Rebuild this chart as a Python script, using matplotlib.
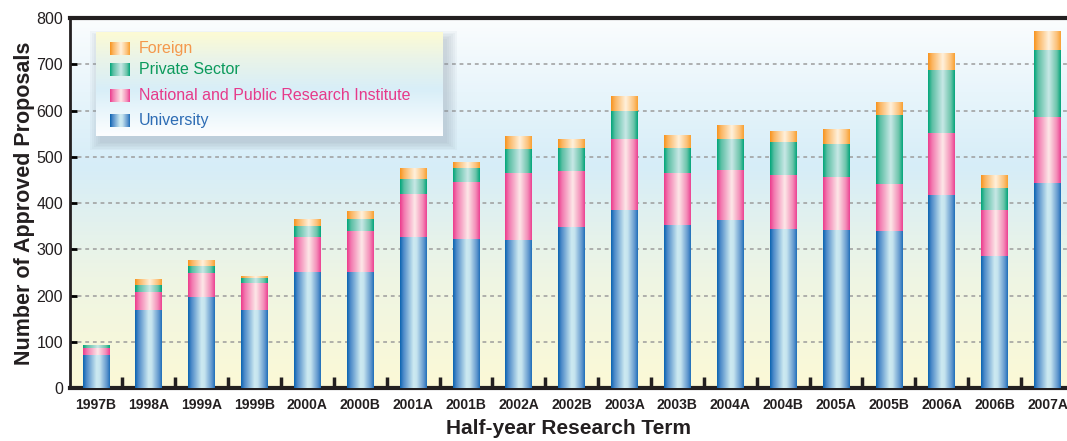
import numpy as np
import matplotlib
matplotlib.use('Agg')
import matplotlib.pyplot as plt
import matplotlib.patches as patches
from matplotlib.colors import LinearSegmentedColormap
from matplotlib.ticker import FixedLocator

plt.rcParams['font.family'] = ['Liberation Sans', 'DejaVu Sans']

# half-year terms and approved proposals per sector
terms = ['1997B', '1998A', '1999A', '1999B', '2000A', '2000B', '2001A', '2001B',
         '2002A', '2002B', '2003A', '2003B', '2004A', '2004B', '2005A', '2005B',
         '2006A', '2006B', '2007A']
university = [71, 169, 197, 169, 251, 251, 326, 322, 320, 348, 385, 352, 363, 344, 342, 339, 417, 285, 443]
national = [16, 39, 52, 58, 75, 88, 93, 123, 145, 121, 153, 113, 108, 117, 114, 102, 134, 100, 143]
private = [6, 15, 15, 11, 24, 26, 32, 30, 52, 50, 61, 54, 67, 71, 72, 149, 136, 47, 145]
foreign = [0, 11, 11, 4, 15, 17, 22, 11, 26, 19, 32, 28, 30, 22, 32, 28, 35, 28, 41]

series_names = ['University', 'National and Public Research Institute', 'Private Sector', 'Foreign']
yticks = [0, 100, 200, 300, 400, 500, 600, 700, 800]

# horizontal gradient stops (left edge -> light centre -> right edge)
grad_stops = {
    'University': [(0, '#0a64b0'), (0.12, '#4a88c8'), (0.5, '#cdeaf1'), (0.62, '#c6e4ef'), (0.9, '#5b93cc'), (1, '#1f6fb8')],
    'National and Public Research Institute': [(0, '#ec3b8c'), (0.15, '#f27ab0'), (0.55, '#fde8e8'), (0.85, '#f48cb8'), (1, '#ec4191')],
    'Private Sector': [(0, '#00a679'), (0.15, '#5cbfa4'), (0.55, '#c8e8e6'), (0.85, '#6cc4aa'), (1, '#03a57a')],
    'Foreign': [(0, '#f7931e'), (0.15, '#fbb560'), (0.55, '#fff1dc'), (0.85, '#fcc27a'), (1, '#f8a032')],
}
text_colors = {
    'Foreign': '#f4984c',
    'Private Sector': '#0b9a5c',
    'National and Public Research Institute': '#e63a8a',
    'University': '#2d6cb4',
}


def vertical_gradient(stops, n=256):
    cmap = LinearSegmentedColormap.from_list('bg', stops)
    return cmap(np.linspace(0, 1, n))[:, None, :3]


def fill_bars(ax, bars, stops):
    cmap = LinearSegmentedColormap.from_list('bar', stops)
    row = np.linspace(0, 1, 128)[None, :]
    for p in bars:
        h = p.get_height()
        if h <= 0:
            continue
        x, y, w = p.get_x(), p.get_y(), p.get_width()
        ax.imshow(row, cmap=cmap, extent=[x, x + w, y, y + h], aspect='auto',
                  interpolation='bilinear', zorder=3)


fig = plt.figure(figsize=(10.67, 4.41), dpi=100)
ax = fig.add_axes([0.0656, 0.120, 0.9344, 0.839])

# plot background
bg = vertical_gradient([(0, '#fcf9d6'), (0.3, '#eef5e4'), (0.6, '#d6edf8'), (0.8, '#e8f5fb'), (1, '#fbfdfe')])
ax.imshow(bg, extent=[0, 1, 0, 1], transform=ax.transAxes, aspect='auto',
          origin='lower', zorder=0)

x = np.arange(len(terms))
bottom = np.zeros(len(terms))
for name, vals in zip(series_names, [university, national, private, foreign]):
    bars = ax.bar(x, vals, width=0.505, bottom=bottom, color=grad_stops[name][2][1],
                  linewidth=0, zorder=2)
    fill_bars(ax, bars, grad_stops[name])
    bottom += np.array(vals)

ax.set_xlim(-0.49, 18.37)
ax.set_ylim(0, 800)

ax.yaxis.grid(True, linestyle=(0, (2.5, 2.5)), color='#9c9c9c', linewidth=1.1, zorder=1)
ax.set_axisbelow(True)

ax.set_yticks(yticks)
ax.tick_params(axis='y', direction='in', length=5, width=2, labelsize=11.5,
               labelcolor='#231f20', pad=5)
ax.set_xticks(x)
ax.set_xticklabels(terms, fontweight='bold', fontsize=10, color='#231f20')
ax.tick_params(axis='x', which='major', length=0, pad=7)
ax.xaxis.set_minor_locator(FixedLocator(x[:-1] + 0.5))
ax.tick_params(axis='x', which='minor', direction='in', length=8, width=2.5, color='#231f20')

ax.spines['left'].set_linewidth(2)
for side in ['top', 'bottom']:
    ax.spines[side].set_linewidth(3)
for side in ['left', 'top', 'bottom']:
    ax.spines[side].set_color('#231f20')
ax.spines['right'].set_visible(False)

ax.set_xlabel('Half-year Research Term', fontsize=15, fontweight='bold', color='#231f20', labelpad=5)
ax.set_ylabel('Number of Approved Proposals', fontsize=15.5, fontweight='bold', color='#231f20', labelpad=1)

# legend box with soft shadow
lx, ly, lw, lh = 0.026, 0.681, 0.348, 0.281
for k in range(6):
    grow = 0.002 * k
    ax.add_patch(patches.Rectangle((lx + 0.004 - grow, ly - 0.018 - grow * 2),
                                   lw + 2 * grow, lh + 4 * grow,
                                   transform=ax.transAxes, facecolor='#8a9aa8',
                                   alpha=0.07, linewidth=0, zorder=5))
lax = ax.inset_axes([lx, ly, lw, lh], zorder=6)
lax.imshow(vertical_gradient([(0, '#fdfeff'), (0.45, '#d8eef8'), (0.75, '#eaf4e8'), (1, '#fdfbd4')]),
           extent=[0, 1, 0, 1], aspect='auto', origin='lower')
lax.set_xlim(0, 1)
lax.set_ylim(0, 1)
lax.axis('off')

legend_order = ['Foreign', 'Private Sector', 'National and Public Research Institute', 'University']
legend_y = [0.84, 0.64, 0.39, 0.15]
row = np.linspace(0, 1, 64)[None, :]
for name, yy in zip(legend_order, legend_y):
    cmap = LinearSegmentedColormap.from_list('sw', grad_stops[name])
    lax.imshow(row, cmap=cmap, extent=[0.04, 0.095, yy - 0.062, yy + 0.062],
               aspect='auto', interpolation='bilinear')
    lax.text(0.124, yy, name, color=text_colors[name], fontsize=11.5, va='center', ha='left')

fig.savefig('out.png', dpi=100)
